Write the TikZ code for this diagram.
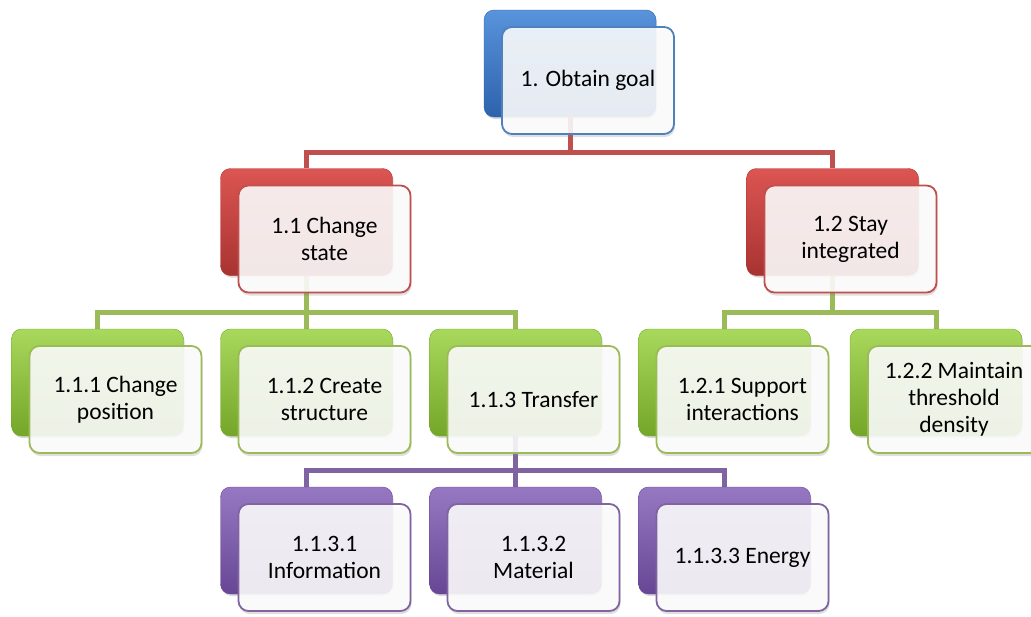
\documentclass[tikz,border=0pt]{standalone}
\usepackage{fontspec}
\setmainfont{Carlito}
\usetikzlibrary{shadows}
\pgfdeclarelayer{bg}
\pgfsetlayers{bg,main}
\definecolor{bleu}{HTML}{4F81BD}
\definecolor{rouge}{HTML}{C0504D}
\definecolor{vert}{HTML}{9BBB59}
\definecolor{violet}{HTML}{8064A2}
\definecolor{bleu_h}{HTML}{5893DC}
\definecolor{bleu_s}{HTML}{2E62AC}
\definecolor{rouge_h}{HTML}{DC5552}
\definecolor{rouge_s}{HTML}{A83331}
\definecolor{vert_h}{HTML}{A8D85C}
\definecolor{vert_s}{HTML}{74A62A}
\definecolor{violet_h}{HTML}{9678C2}
\definecolor{violet_s}{HTML}{674795}
\tikzset{
	boite/.style = {rectangle, rounded corners=10pt, inner sep=0pt,
		minimum width=172pt, minimum height=107pt},% boite commune
	dos/.style = {boite, drop shadow={opacity=0.3, shadow xshift=1pt, shadow yshift=-2pt}},% boite arriere
	dos_b/.style = {dos, top color=bleu_h, bottom color=bleu_s, draw=bleu_s},% arriere bleu
	dos_r/.style = {dos, top color=rouge_h, bottom color=rouge_s, draw=rouge_s},% arriere rouge
	dos_v/.style = {dos, top color=vert_h, bottom color=vert_s, draw=vert_s},% arriere vert
	dos_p/.style = {dos, top color=violet_h, bottom color=violet_s, draw=violet_s},% arriere violet
	face/.style = {boite, fill=white, fill opacity=0.87, text opacity=1, line width=1.8pt,
		align=center, font=\fontsize{23.5}{27}\selectfont,
		drop shadow={opacity=0.25, shadow xshift=1pt, shadow yshift=-3pt}},% boite avant
	face_b/.style = {face, draw=bleu},
	face_r/.style = {face, draw=rouge},
	face_v/.style = {face, draw=vert},
	face_p/.style = {face, draw=violet},
	lien/.style = {line width=5pt},% connecteur
	lien_r/.style = {lien, draw=rouge},
	lien_v/.style = {lien, draw=vert},
	lien_p/.style = {lien, draw=violet}
}

\begin{document}
\begin{tikzpicture}[x=1pt, y=-1pt]
	\useasboundingbox (0,0) rectangle (1031,616);
	% niveau 0
	\node [dos_b] (g0) at (570,63.5) {};
	\node [face_b] (g0f) at ([shift={(18,17)}]g0.center) {1. Obtain goal};
	% niveau 1
	\node [dos_r] (g11) at (306.5,222) {};
	\node [face_r] (g11f) at ([shift={(18,17)}]g11.center) {1.1 Change\\state};
	\node [dos_r] (g12) at (832.5,222) {};
	\node [face_r] (g12f) at ([shift={(18,17)}]g12.center) {1.2 Stay\\integrated};
	% niveau 2
	\node [dos_v] (g111) at (97.5,382.5) {};
	\node [face_v] (g111f) at ([shift={(18,17)}]g111.center) {1.1.1 Change\\position};
	\node [dos_v] (g112) at (306.5,382.5) {};
	\node [face_v] (g112f) at ([shift={(18,17)}]g112.center) {1.1.2 Create\\structure};
	\node [dos_v] (g113) at (515.5,382.5) {};
	\node [face_v] (g113f) at ([shift={(18,17)}]g113.center) {1.1.3 Transfer};
	\node [dos_v] (g121) at (724.5,382.5) {};
	\node [face_v] (g121f) at ([shift={(18,17)}]g121.center) {1.2.1 Support\\interactions};
	\node [dos_v] (g122) at (936,382.5) {};
	\node [face_v] (g122f) at ([shift={(18,17)}]g122.center) {1.2.2 Maintain\\threshold\\density};
	% niveau 3
	\node [dos_p] (g1131) at (306.5,540.5) {};
	\node [face_p] (g1131f) at ([shift={(18,17)}]g1131.center) {1.1.3.1\\Information};
	\node [dos_p] (g1132) at (515.5,540.5) {};
	\node [face_p] (g1132f) at ([shift={(18,17)}]g1132.center) {1.1.3.2\\Material};
	\node [dos_p] (g1133) at (724.5,540.5) {};
	\node [face_p] (g1133f) at ([shift={(18,17)}]g1133.center) {1.1.3.3 Energy};
	% connecteurs
	\begin{pgfonlayer}{bg}
		\draw [lien_r] (g0.south) -- ++(0,35) -| (g11.north);
		\draw [lien_r] (g0.south) -- ++(0,35) -| (g12.north);
		\draw [lien_v] (g11.south) -- ++(0,37) -| (g111.north);
		\draw [lien_v] (g11.south) -- ++(0,37) -| (g112.north);
		\draw [lien_v] (g11.south) -- ++(0,37) -| (g113.north);
		\draw [lien_v] (g12.south) -- ++(0,37) -| (g121.north);
		\draw [lien_v] (g12.south) -- ++(0,37) -| (g122.north);
		\draw [lien_p] (g113.south) -- ++(0,34) -| (g1131.north);
		\draw [lien_p] (g113.south) -- ++(0,34) -| (g1132.north);
		\draw [lien_p] (g113.south) -- ++(0,34) -| (g1133.north);
	\end{pgfonlayer}
\end{tikzpicture}
\end{document}
